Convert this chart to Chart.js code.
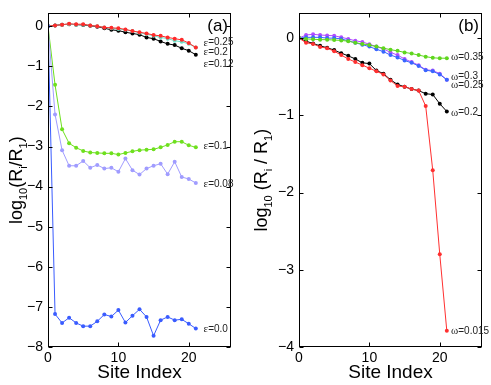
<!DOCTYPE html>
<html>
<head>
<meta charset="utf-8">
<script src="https://cdn.jsdelivr.net/npm/chart.js@4.4.1/dist/chart.umd.min.js"></script>
<style>
  html, body { margin: 0; padding: 0; background: #fff; }
  #wrap { position: relative; width: 491px; height: 385px; }
  .panel { position: absolute; top: 0; height: 385px; }
  #pa { left: 0; width: 245px; }
  #pb { left: 245px; width: 246px; }
</style>
</head>
<body>
<div id="wrap">
  <div class="panel" id="pa"><canvas id="chartA"></canvas></div>
  <div class="panel" id="pb"><canvas id="chartB"></canvas></div>
</div>
<script>
(function () {
  "use strict";

  /* ---- data -------------------------------------------------------- */
  var sites = [0, 1, 2, 3, 4, 5, 6, 7, 8, 9, 10, 11, 12, 13, 14, 15, 16, 17, 18, 19, 20, 21];
  var xTicks = [0, 10, 20];
  var yTicksA = [-8, -7, -6, -5, -4, -3, -2, -1, 0];
  var yTicksB = [-4, -3, -2, -1, 0];

  // panel (a): varying epsilon
  var eps025 = [0, 0.02, 0.04, 0.06, 0.05, 0.05, 0.02, 0, -0.03, -0.04, -0.05, -0.08, -0.12, -0.15, -0.18, -0.22, -0.24, -0.28, -0.31, -0.34, -0.42, -0.53];
  var eps020 = [0, 0.02, 0.04, 0.05, 0.04, 0.04, 0.02, 0, -0.03, -0.05, -0.07, -0.09, -0.12, -0.16, -0.2, -0.24, -0.28, -0.31, -0.36, -0.39, -0.44, -0.53];
  var eps012 = [0, 0.02, 0.04, 0.05, 0.04, 0.03, 0.01, -0.01, -0.05, -0.09, -0.11, -0.15, -0.18, -0.21, -0.28, -0.31, -0.38, -0.44, -0.47, -0.55, -0.61, -0.71];
  var eps010 = [0, -1.46, -2.57, -2.92, -3.03, -3.11, -3.15, -3.16, -3.17, -3.17, -3.2, -3.16, -3.12, -3.09, -3.08, -3.07, -3.02, -2.96, -2.88, -2.88, -2.97, -3.02];
  var eps008 = [0, -2.2, -3.09, -3.48, -3.48, -3.36, -3.53, -3.46, -3.55, -3.53, -3.63, -3.3, -3.59, -3.7, -3.55, -3.48, -3.43, -3.69, -3.38, -3.76, -3.81, -3.91];
  var eps000 = [0, -7.18, -7.4, -7.27, -7.4, -7.48, -7.48, -7.36, -7.19, -7.24, -7.08, -7.39, -7.22, -7.06, -7.25, -7.72, -7.33, -7.25, -7.33, -7.31, -7.42, -7.54];

  // panel (b): varying omega
  var om035 = [0, -0.01, -0.015, -0.02, -0.02, -0.025, -0.03, -0.04, -0.06, -0.075, -0.09, -0.11, -0.13, -0.15, -0.165, -0.185, -0.2, -0.22, -0.24, -0.255, -0.26, -0.26];
  var om030 = [0, 0.04, 0.05, 0.04, 0.035, 0.03, 0.01, -0.01, -0.035, -0.05, -0.08, -0.11, -0.14, -0.185, -0.22, -0.27, -0.31, -0.35, -0.41, -0.42, -0.46, -0.54];
  var om025 = [0, 0.01, 0.01, 0.01, 0, 0, -0.01, -0.035, -0.06, -0.085, -0.11, -0.145, -0.175, -0.22, -0.25, -0.29, -0.32, -0.36, -0.415, -0.43, -0.47, -0.54];
  var om020 = [0, -0.04, -0.07, -0.1, -0.125, -0.155, -0.195, -0.23, -0.27, -0.32, -0.33, -0.42, -0.46, -0.54, -0.6, -0.63, -0.66, -0.68, -0.72, -0.73, -0.85, -0.95];
  var om0015 = [0, -0.06, -0.075, -0.115, -0.13, -0.17, -0.22, -0.27, -0.31, -0.35, -0.39, -0.43, -0.47, -0.55, -0.62, -0.63, -0.66, -0.68, -0.88, -1.71, -2.8, -3.79];

  // curve labels: greek letter, value text, anchor (data units)
  var labGreekA = "\u03b5";
  var labTextA = ["=0.25", "=0.2", "=0.12", "=0.1", "=0.08", "=0.0"];
  var labYA = [-0.41, -0.65, -0.95, -3.0, -3.94, -7.56];
  var labXA = 22.1;
  var labGreekB = "\u03c9";
  var labTextB = ["=0.35", "=0.3", "=0.25", "=0.2", "=0.015"];
  var labYB = [-0.25, -0.5, -0.61, -0.965, -3.79];
  var labXB = 21.6;

  /* ---- helpers ----------------------------------------------------- */
  var SANS = "'Liberation Sans', Arial, Helvetica, sans-serif";
  var SERIF = "'Liberation Serif', 'Times New Roman', serif";

  var pts = function (ys) {
    return sites.map(function (x, i) { return { x: x, y: ys[i] }; });
  };
  var series = function (ys, color) {
    return {
      data: pts(ys),
      borderColor: color,
      backgroundColor: color,
      borderWidth: 1,
      pointRadius: 2,
      pointBorderWidth: 0,
      pointBackgroundColor: color,
    };
  };
  var minus = function (v) { return String(v).replace("-", "\u2212"); };

  // frame, inward ticks, y title with subscripts, panel tag, curve labels
  var deco = {
    id: "deco",
    afterDraw: function (chart) {
      var o = chart.options.plugins.deco;
      var ctx = chart.ctx;
      var ca = chart.chartArea;
      var xs = chart.scales.x, ys = chart.scales.y;
      var L = Math.round(ca.left) + 0.5, R = Math.round(ca.right) - 0.5;
      var T = Math.round(ca.top) + 0.5, B = Math.round(ca.bottom) - 0.5;
      ctx.save();
      ctx.strokeStyle = "#000";
      ctx.lineWidth = 1;
      ctx.strokeRect(L, T, R - L, B - T);
      ctx.beginPath();
      o.yTicks.forEach(function (v) {
        var y = Math.round(ys.getPixelForValue(v)) + 0.5;
        ctx.moveTo(L, y); ctx.lineTo(L + 4, y);
        ctx.moveTo(R, y); ctx.lineTo(R - 4, y);
      });
      xTicks.forEach(function (v) {
        var x = Math.round(xs.getPixelForValue(v)) + 0.5;
        ctx.moveTo(x, B); ctx.lineTo(x, B - 4);
        ctx.moveTo(x, T); ctx.lineTo(x, T + 4);
      });
      ctx.stroke();

      // y axis title
      var parts = o.yTitle;
      ctx.fillStyle = "#000";
      ctx.textBaseline = "alphabetic";
      ctx.textAlign = "left";
      var total = 0;
      parts.forEach(function (p) {
        ctx.font = p[1] + "px " + SANS;
        total += ctx.measureText(p[0]).width;
      });
      ctx.translate(o.yTitleX, (ca.top + ca.bottom) / 2);
      ctx.rotate(-Math.PI / 2);
      var cx = -total / 2;
      parts.forEach(function (p) {
        ctx.font = p[1] + "px " + SANS;
        ctx.fillText(p[0], cx, p[2]);
        cx += ctx.measureText(p[0]).width;
      });
      ctx.setTransform(1, 0, 0, 1, 0, 0);

      // panel tag
      ctx.font = "17px " + SANS;
      ctx.textAlign = "right";
      ctx.textBaseline = "middle";
      ctx.fillText(o.tag, ca.right - 3, ca.top + 13);

      // curve labels
      ctx.textAlign = "left";
      ctx.fillStyle = "#222";
      o.labText.forEach(function (t, i) {
        var x = xs.getPixelForValue(o.labX);
        var y = ys.getPixelForValue(o.labY[i]);
        ctx.font = "11px " + SERIF;
        ctx.fillText(o.greek, x, y);
        x += ctx.measureText(o.greek).width;
        ctx.font = "10px " + SANS;
        ctx.fillText(t, x, y);
      });
      ctx.restore();
    },
  };

  var makeChart = function (id, datasets, cfg) {
    return new Chart(document.getElementById(id), {
      type: "line",
      data: { datasets: datasets },
      plugins: [deco],
      options: {
        responsive: true,
        maintainAspectRatio: false,
        animation: false,
        devicePixelRatio: 1,
        layout: { padding: { top: 4, right: cfg.padRight, left: 0, bottom: 0 } },
        plugins: {
          legend: { display: false },
          tooltip: { enabled: false },
          deco: {
            yTicks: cfg.yTicks, yTitle: cfg.yTitle, yTitleX: cfg.yTitleX, tag: cfg.tag,
            greek: cfg.greek, labText: cfg.labText, labY: cfg.labY, labX: cfg.labX,
          },
        },
        scales: {
          x: {
            type: "linear", min: 0, max: 26,
            afterBuildTicks: function (s) { s.ticks = xTicks.map(function (v) { return { value: v }; }); },
            afterFit: function (s) { s.height = 38; },
            grid: { display: false, drawTicks: false },
            border: { display: false },
            ticks: { color: "#000", font: { size: 14, family: SANS }, padding: 3, maxRotation: 0 },
            title: { display: true, text: "Site Index", color: "#000", font: { size: 19, family: SANS }, padding: { top: 0, bottom: 1 } },
          },
          y: {
            type: "linear", min: cfg.yMin, max: cfg.yMax,
            afterBuildTicks: function (s) { s.ticks = cfg.yTicks.map(function (v) { return { value: v }; }); },
            afterFit: function (s) { s.width = cfg.yAxisW; },
            grid: { display: false, drawTicks: false },
            border: { display: false },
            ticks: { color: "#000", font: { size: 14, family: SANS }, padding: 5, callback: minus },
          },
        },
      },
    });
  };

  /* ---- panels ------------------------------------------------------ */
  makeChart("chartA", [
    series(eps000, "#3a5cff"),
    series(eps008, "#a09cff"),
    series(eps010, "#6ee01e"),
    series(eps025, "#ff2a2a"),
    series(eps020, "#6fe0c8"),
    series(eps012, "#000000"),
  ], {
    yMin: -8, yMax: 0.32, yTicks: yTicksA, yAxisW: 48, padRight: 14,
    yTitle: [["log", 18, 0], ["10", 11, 5], ["(R", 18, 0], ["i", 11, 5], ["/R", 18, 0], ["1", 11, 5], [")", 18, 0]],
    yTitleX: 22, tag: "(a)",
    greek: labGreekA, labText: labTextA, labY: labYA, labX: labXA,
  });

  makeChart("chartB", [
    series(om035, "#5fd61e"),
    series(om025, "#3a66ff"),
    series(om030, "#b04cff"),
    series(om0015, "#ff3030"),
    series(om020, "#000000"),
  ], {
    yMin: -4, yMax: 0.32, yTicks: yTicksB, yAxisW: 54, padRight: 9,
    yTitle: [["log", 18, 0], ["10", 11, 5], [" (R", 18, 0], ["i", 11, 5], [" / R", 18, 0], ["1", 11, 5], [")", 18, 0]],
    yTitleX: 22, tag: "(b)",
    greek: labGreekB, labText: labTextB, labY: labYB, labX: labXB,
  });
})();
</script>
</body>
</html>
